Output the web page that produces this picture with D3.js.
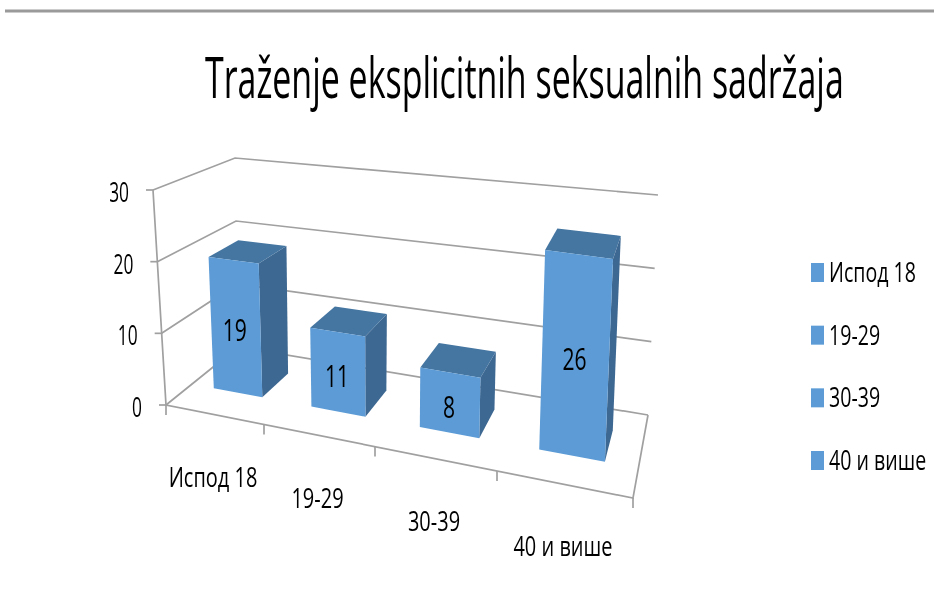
<!DOCTYPE html>
<html lang="en">
<head>
    <meta charset="UTF-8">
    <style>
        body { margin: 0; background: #fff; }
        text { font-family: "Open Sans", sans-serif; fill: #000; }
        .grid { stroke: #a0a0a0; stroke-width: 1.7px; fill: none; }
    </style>
</head>
<body>
    <svg width="934" height="611"></svg>
    <script src="https://d3js.org/d3.v7.min.js"></script>
    <script>
        var titleText = "Traženje eksplicitnih seksualnih sadržaja";
        var categories = ["Испод 18", "19-29", "30-39", "40 и више"];
        var values = [19, 11, 8, 26];
        var yTicks = [0, 10, 20, 30];

        var svg = d3.select("svg");
        var defs = svg.append("defs");
        defs.append("filter").attr("id", "soft")
            .append("feGaussianBlur").attr("stdDeviation", 0.45);
        var g = svg.append("g").attr("filter", "url(#soft)");

        // the floor edges are not evenly spaced because of the perspective
        var slots = d3.range(categories.length + 1);
        var frontX = d3.scaleLinear().domain(slots).range([166, 264, 375, 497, 633]);
        var backX = d3.scaleLinear().domain(slots).range([238, 328, 425, 532, 648]);
        var frontY = d3.scaleLinear().domain([166, 633]).range([405, 498]);
        var backY = d3.scaleLinear().domain([238, 648]).range([347, 415]);
        var hgt = d3.scaleLinear().domain([0, 30]).range([0, 1]);

        var uEnd = d3.scaleLinear().domain([0, categories.length]).range([0, 1]);
        var riseLeftX = d3.scaleLinear().range([-13, -3]),   // front -> back
            riseLeftY = d3.scaleLinear().range([-215, -189]),
            riseRightX = d3.scaleLinear().range([11, 10]),
            riseRightY = d3.scaleLinear().range([-245, -220]);

        // u = position along the categories, v = depth 0..1, val = chart value
        function project(u, v, val) {
            var fx = frontX(u), bx = backX(u),
                px = fx + (bx - fx) * v,
                fy = frontY(fx), by = backY(bx),
                py = fy + (by - fy) * v,
                t = uEnd(u), h = hgt(val);
            var rx = riseLeftX(v) + (riseRightX(v) - riseLeftX(v)) * t,
                ry = riseLeftY(v) + (riseRightY(v) - riseLeftY(v)) * t;
            return [px + rx * h, py + ry * h];
        }

        var poly = d3.line();
        var nCat = categories.length;

        // top rule of the slide
        g.append("line").attr("x1", 5).attr("x2", 934).attr("y1", 11).attr("y2", 11)
            .attr("stroke", "#9a9a9a").attr("stroke-width", 3);

        function text(x, y, str, size, sx, anchor) {
            return g.append("text")
                .attr("transform", "translate(" + x + "," + y + ") scale(" + sx + ",1)")
                .attr("text-anchor", anchor)
                .style("font-size", size + "px")
                .text(str);
        }

        text(205, 98, titleText, 56, 0.606, "start");

        // walls
        yTicks.forEach(function(t) {
            g.append("path").attr("class", "grid")
                .attr("d", poly([project(0, 0, t), project(0, 1, t), project(nCat, 1, t)]));
            var p = project(0, 0, t);
            g.append("line").attr("class", "grid")
                .attr("x1", p[0] - 7).attr("x2", p[0]).attr("y1", p[1]).attr("y2", p[1]);
            text(p[0] - 24, p[1] + 12, d3.format("d")(t), 28, 0.62, "end");
        });
        g.append("path").attr("class", "grid")
            .attr("d", poly([project(0, 0, 30), project(0, 0, 0), project(nCat, 0, 0), project(nCat, 1, 0)]));

        // category ticks and labels
        slots.forEach(function(s) {
            var p = project(s, 0, 0);
            g.append("line").attr("class", "grid")
                .attr("x1", p[0]).attr("x2", p[0]).attr("y1", p[1]).attr("y2", p[1] + 10);
        });
        categories.forEach(function(c, i) {
            var p = project(i + 0.5, 0, 0);
            text(p[0] - 2, p[1] + 72, c, 27, 0.74, "middle");
        });

        // bars
        var u0 = 0.23, u1 = 0.74, v0 = 0.36, v1 = 0.75;
        var bars = g.selectAll(".bar").data(values).enter().append("g").attr("class", "bar");

        bars.append("path").attr("fill", "#3d6791")
            .attr("d", function(d, i) {
                return poly([project(i + u1, v0, 0), project(i + u1, v1, 0), project(i + u1, v1, d), project(i + u1, v0, d)]) + "Z";
            });
        bars.append("path").attr("fill", "#4475a1")
            .attr("d", function(d, i) {
                return poly([project(i + u0, v0, d), project(i + u1, v0, d), project(i + u1, v1, d), project(i + u0, v1, d)]) + "Z";
            });
        bars.append("path").attr("fill", "#5b9bd6")
            .attr("d", function(d, i) {
                return poly([project(i + u0, v0, 0), project(i + u1, v0, 0), project(i + u1, v0, d), project(i + u0, v0, d)]) + "Z";
            });
        values.forEach(function(d, i) {
            var p = project(i + (u0 + u1) / 2, v0, d / 2);
            text(p[0] - 1, p[1] + 15, d3.format("d")(d), 31, 0.68, "middle");
        });

        // legend
        var legendY = d3.scalePoint().domain(categories).range([272, 460]);
        categories.forEach(function(c) {
            var y = legendY(c);
            g.append("rect").attr("x", 811).attr("y", y - 9).attr("width", 13).attr("height", 19)
                .attr("fill", "#5b9bd6");
            text(829, y + 10, c, 28, 0.7, "start");
        });
    </script>
</body>
</html>
